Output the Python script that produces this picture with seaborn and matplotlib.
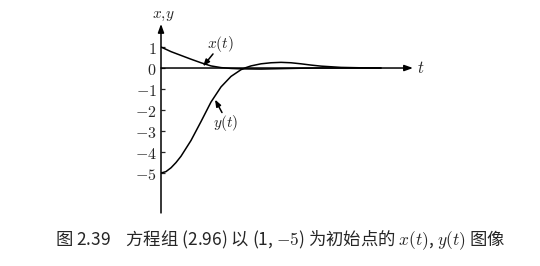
import matplotlib
matplotlib.use("Agg")
import matplotlib.pyplot as plt
import seaborn as sns
import pandas as pd

# data
t_x = [0, 0.5, 1, 1.5, 2, 2.5, 3, 3.5, 4, 5, 6, 7, 8, 11]
x_vals = [1.0, 0.78, 0.6, 0.42, 0.25, 0.1, 0.02, -0.02, -0.04, -0.05, -0.03, -0.01, 0.0, 0.0]
t_y = [0, 0.25, 0.5, 0.75, 1, 1.5, 2, 2.5, 3, 3.5, 4, 4.25, 4.5, 5, 5.5, 6, 6.5, 7, 7.5, 8, 9, 10, 11]
y_vals = [-5.0, -4.93, -4.75, -4.5, -4.2, -3.45, -2.55, -1.62, -0.9, -0.4, -0.08, 0.02, 0.1, 0.2,
          0.25, 0.27, 0.25, 0.2, 0.14, 0.09, 0.03, 0.01, 0.0]
y_ticks = [1, 0, -1, -2, -3, -4, -5]
caption = "图 2.39    方程组 (2.96) 以 (1, $-5$) 为初始点的 $x(t)$, $y(t)$ 图像"

sns.set_style("white")
plt.rcParams['font.family'] = ['Noto Sans CJK SC', 'DejaVu Sans']
plt.rcParams['mathtext.fontset'] = 'cm'
plt.rcParams['axes.unicode_minus'] = True

fig = plt.figure(figsize=(5.4, 2.66), dpi=100)
ax = fig.add_axes([161/540, 1-218/266, (430-161)/540, 213/266])

df_x = pd.DataFrame({"t": t_x, "v": x_vals})
df_y = pd.DataFrame({"t": t_y, "v": y_vals})
sns.lineplot(data=df_x, x="t", y="v", ax=ax, color="black", lw=1.1, sort=False)
sns.lineplot(data=df_y, x="t", y="v", ax=ax, color="black", lw=1.1, sort=False)

ax.set_xlim(0, 13.45)
ax.set_ylim(-7.14, 3.0)
for s in ax.spines.values():
    s.set_visible(False)
ax.set_xlabel("")
ax.set_ylabel("")
ax.set_xticks([])
ax.set_yticks(y_ticks)
ax.set_yticklabels([f"${v}$" for v in y_ticks], fontsize=11.5)
ax.tick_params(axis='y', direction='in', length=3, width=0.9, pad=3, left=True)

# axes with arrows
ax.annotate("", xy=(12.6, 0), xytext=(0, 0),
            arrowprops=dict(arrowstyle="-|>,head_length=0.5,head_width=0.18", color="black", lw=1.1,
                            shrinkA=0, shrinkB=0),
            annotation_clip=False)
ax.annotate("", xy=(0, 2.1), xytext=(0, -6.9),
            arrowprops=dict(arrowstyle="-|>,head_length=0.5,head_width=0.18", color="black", lw=1.1,
                            shrinkA=0, shrinkB=0),
            annotation_clip=False)
ax.text(13.0, 0, "$t$", fontsize=12, va="center", ha="center")
ax.text(0.1, 2.55, "$x,\\!y$", fontsize=11, va="center", ha="center")

# curve labels with arrows
ax.text(2.95, 1.15, "$x(t)$", fontsize=11, va="center", ha="center")
ax.annotate("", xy=(2.1, 0.08), xytext=(2.6, 0.67),
            arrowprops=dict(arrowstyle="-|>,head_length=0.4,head_width=0.15", color="black", lw=1.1,
                            shrinkA=0, shrinkB=0))
ax.text(3.25, -2.6, "$y(t)$", fontsize=11, va="center", ha="center")
ax.annotate("", xy=(2.7, -1.5), xytext=(3.05, -2.12),
            arrowprops=dict(arrowstyle="-|>,head_length=0.4,head_width=0.15", color="black", lw=1.1,
                            shrinkA=0, shrinkB=0))

fig.text(0.519, 1-240/266, caption, fontsize=12.5, ha="center", va="center")

fig.savefig("out.png", dpi=100)
